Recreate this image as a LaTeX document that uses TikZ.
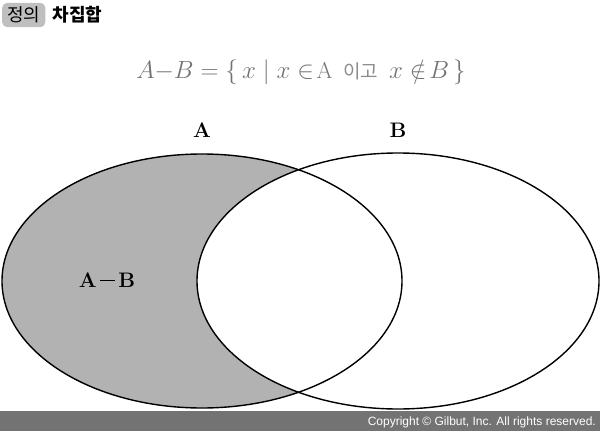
\documentclass[tikz,border=0pt]{standalone}
\usepackage{fontspec}
\newfontfamily\korfont{Noto Sans CJK KR}
\newfontfamily\copyfont{Liberation Sans}
\usetikzlibrary{positioning}

\begin{document}
\begin{tikzpicture}[x=1pt,y=-1pt]

	\tikzstyle{every node}=[inner sep=0pt]
	\tikzstyle{setline}=[line width=1.4pt]
	\tikzstyle{setlabel}=[font=\fontsize{21}{21}\selectfont\bfseries]

	\useasboundingbox (0,0) rectangle (600,431);

	% 차집합 A-B 영역
	\fill[black!30] (202,281) ellipse [x radius=200, y radius=127];
	\fill[white]    (398,281) ellipse [x radius=201, y radius=128];
	\draw[setline]  (202,281) ellipse [x radius=200, y radius=127];
	\draw[setline]  (398,281) ellipse [x radius=201, y radius=128];

	\node[fill=black!25, rounded corners=5pt, inner xsep=5pt, inner ysep=4pt, anchor=west, font=\korfont\fontsize{18}{18}\selectfont] (defbox) at (2,15) {정의};
	\node[right = 7pt of defbox, font=\korfont\bfseries\fontsize{18}{18}\selectfont] (title) {차집합};

	\node[text=black!55, font=\fontsize{23}{23}\selectfont] (formula) at (301,72)
		{$A{-}B = \{\, x \mid x \in\!\mathrm{A}$\, \mbox{\korfont\fontsize{19}{19}\selectfont\color{black!45}이고}\, $x \notin\! B \,\}$};

	\node[setlabel] (labelA)  at (202,130) {A};
	\node[setlabel] (labelB)  at (398,130) {B};
	\node[setlabel] (labelAB) at (107,280) {A\,\rule[0.28em]{0.7em}{1.8pt}\,B};

	\fill[black!55] (0,411) rectangle (600,431);
	\node[anchor=east, text=white, font=\copyfont\fontsize{12}{12}\selectfont] (copyright) at (596,422)
		{Copyright © Gilbut, Inc. All rights reserved.};

\end{tikzpicture}
\end{document}
